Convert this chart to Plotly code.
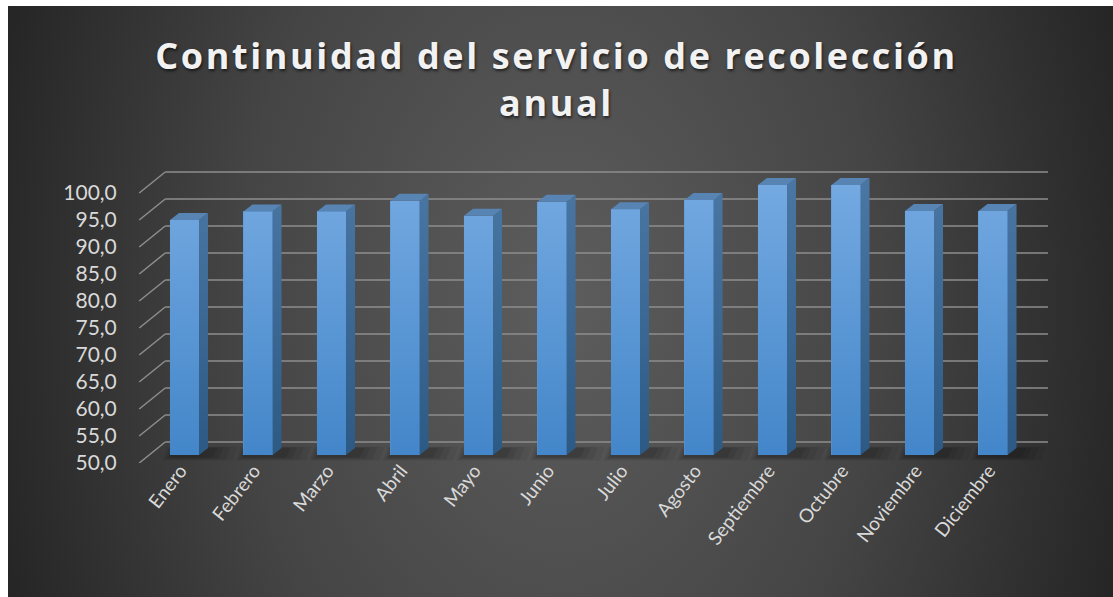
import base64
import plotly.graph_objects as go

# ---------------- data ----------------
months = ["Enero", "Febrero", "Marzo", "Abril", "Mayo", "Junio", "Julio",
          "Agosto", "Septiembre", "Octubre", "Noviembre", "Diciembre"]
values = [93.5, 95.1, 95.1, 97.1, 94.3, 96.9, 95.5, 97.2, 100.0, 100.0, 95.2, 95.2]
y_ticks = [50, 55, 60, 65, 70, 75, 80, 85, 90, 95, 100]
title_text = "Continuidad del servicio de recolección<br>anual"
base_value = 50

# ---------------- geometry / style ----------------
W, H = 1113, 597
PL, PR, PT, PB = 130, 1060, 160, 463      # plot area in px
FIRST_BAR_PX = 184.5                      # px of first category
PX_X = 73.5                               # px per category
PX_Y = 5.4                                # px per value unit
BAR_W = 0.395
# oblique depth offsets (px, x right / y up) relative to the bar front plane
FRONT = (-10, -8)
BARBACK = (9, 7)
BACK = (16, 13)
BAND = (-0.48, 11.53)

def ux(px):
    return px / PX_X

def uy(px):
    return px / PX_Y

x_range = [(PL - FIRST_BAR_PX) / PX_X, (PR - FIRST_BAR_PX) / PX_X]
yL_range = [base_value, base_value + (PB - PT) / PX_Y]           # front-edge plane (labels)
shift = uy(-FRONT[1])
yB_range = [yL_range[0] - shift, yL_range[1] - shift]             # bar front plane

fig = go.Figure()

# --- back wall gridlines and side wall lines (label plane axis y) ---
gx, gy = [], []
d_back_x = ux(BACK[0] - FRONT[0])
d_back_y = uy(BACK[1] - FRONT[1])
xf_left = BAND[0] + ux(FRONT[0])
for v in y_ticks:
    gx += [xf_left, xf_left + d_back_x, None]
    gy += [v, v + d_back_y, None]
    gx += [BAND[0] + ux(BACK[0]), BAND[1] + ux(BACK[0]), None]
    gy += [v + d_back_y, v + d_back_y, None]
fig.add_trace(go.Scatter(x=gx, y=gy, mode="lines", yaxis="y",
                         line=dict(color="#8e8e8e", width=1.5),
                         hoverinfo="skip", showlegend=False))

# --- soft floor shadows under bars (label plane) ---
for spread, alpha in [(0.42, 0.06), (0.30, 0.07), (0.18, 0.08), (0.08, 0.09)]:
    sx, sy = [], []
    for i in range(len(values)):
        x0 = i - BAR_W / 2 - spread * 0.25
        x1 = i + BAR_W / 2 + ux(BARBACK[0]) + spread * 0.8
        yb = base_value + uy(-FRONT[1]) - uy(2) - spread * 1.5
        yt = base_value + uy(-FRONT[1]) + uy(BARBACK[1]) + spread * 0.6
        sx += [x0, x1, x1 + ux(5), x0 + ux(5), x0, None]
        sy += [yb, yb, yt, yt, yb, None]
    fig.add_trace(go.Scatter(x=sx, y=sy, mode="lines", fill="toself", yaxis="y",
                             fillcolor=f"rgba(0,0,0,{alpha})", line=dict(width=0),
                             hoverinfo="skip", showlegend=False))

# --- bars (front faces) on the bar-plane axis ---
fig.add_trace(go.Bar(x=list(range(len(months))), y=[v - base_value for v in values],
                     base=base_value, width=BAR_W, yaxis="y2",
                     marker=dict(color="#5a97d5", line=dict(width=0)),
                     customdata=months,
                     hovertemplate="%{customdata}: %{y:.1f}<extra></extra>",
                     showlegend=False))

# gradient shading of the front faces
fx, fy = [], []
for i, v in enumerate(values):
    x0, x1 = i - BAR_W / 2, i + BAR_W / 2
    fx += [x0, x1, x1, x0, x0, None]
    fy += [base_value, base_value, v, v, base_value, None]
fig.add_trace(go.Scatter(x=fx, y=fy, mode="lines", fill="toself", yaxis="y2",
                         line=dict(width=0),
                         fillgradient=dict(type="vertical",
                                           colorscale=[[0, "#4386c9"], [1, "#74a9e1"]],
                                           start=base_value, stop=100),
                         hoverinfo="skip", showlegend=False))

# side faces
dx, dy = ux(BARBACK[0]), uy(BARBACK[1])
sx, sy = [], []
for i, v in enumerate(values):
    x1 = i + BAR_W / 2
    sx += [x1, x1 + dx, x1 + dx, x1, x1, None]
    sy += [base_value, base_value + dy, v + dy, v, base_value, None]
fig.add_trace(go.Scatter(x=sx, y=sy, mode="lines", fill="toself", yaxis="y2",
                         line=dict(width=0),
                         fillgradient=dict(type="vertical",
                                           colorscale=[[0, "#2d5985"], [1, "#4a76a3"]],
                                           start=base_value, stop=100),
                         hoverinfo="skip", showlegend=False))

# top faces
tx, ty = [], []
for i, v in enumerate(values):
    x0, x1 = i - BAR_W / 2, i + BAR_W / 2
    tx += [x0, x1, x1 + dx, x0 + dx, x0, None]
    ty += [v, v, v + dy, v + dy, v, None]
fig.add_trace(go.Scatter(x=tx, y=ty, mode="lines", fill="toself", yaxis="y2",
                         fillcolor="#5884b4", line=dict(width=0),
                         hoverinfo="skip", showlegend=False))

# ---------------- background (radial gradient) ----------------
bw, bh = W - 8, H - 6
svg = (
    f'<svg xmlns="http://www.w3.org/2000/svg" width="{bw}" height="{bh}" '
    f'viewBox="0 0 {bw} {bh}" preserveAspectRatio="none">'
    '<defs><radialGradient id="g" cx="0.5" cy="0.5" r="0.5" '
    'gradientTransform="translate(0.5 0.5) scale(1.05 2.9) translate(-0.5 -0.5)">'
    '<stop offset="0" stop-color="#5d5d5d"/>'
    '<stop offset="0.55" stop-color="#454545"/>'
    '<stop offset="1" stop-color="#262626"/>'
    '</radialGradient></defs>'
    f'<rect width="{bw}" height="{bh}" fill="url(#g)"/></svg>'
)
bg_src = "data:image/svg+xml;base64," + base64.b64encode(svg.encode()).decode()
pw, ph = PR - PL, PB - PT

fig.update_layout(
    width=W, height=H,
    margin=dict(l=PL, r=W - PR, t=PT, b=H - PB, pad=0),
    paper_bgcolor="white",
    plot_bgcolor="rgba(0,0,0,0)",
    separators=",.",
    bargap=0,
    images=[dict(source=bg_src, xref="paper", yref="paper",
                 x=(8 - PL) / pw, y=(PB - 6) / ph,
                 sizex=bw / pw, sizey=bh / ph,
                 xanchor="left", yanchor="top", sizing="stretch", layer="below")],
    title=dict(text=title_text, x=0.5, xref="container", xanchor="center",
               y=1 - 69 / H, yref="container", yanchor="top",
               font=dict(family="Open Sans", size=36, color="#f2f2f2", weight="bold",
                         shadow="1px 2px 3px rgba(0,0,0,0.6)")),
    xaxis=dict(range=x_range, tickmode="array", tickvals=list(range(len(months))),
               ticktext=months, tickangle=-52, showgrid=False, zeroline=False,
               showline=False, ticks="", ticklabelstandoff=-8, ticklabelshift=-4,
               tickfont=dict(family="Lato", size=19, color="#d9d9d9")),
    yaxis=dict(range=yL_range, tickmode="array", tickvals=y_ticks, tickformat=".1f",
               showgrid=False, zeroline=False, showline=False,
               ticks="outside", ticklen=8, tickcolor="rgba(0,0,0,0)",
               tickfont=dict(family="Lato", size=21, color="#d9d9d9")),
    yaxis2=dict(range=yB_range, overlaying="y", visible=False),
)

post = """
var el = document.querySelector('.gtitle');
if (el) { el.style.letterSpacing = '2.6px'; }
"""
fig.write_html("out.html", post_script=post)
